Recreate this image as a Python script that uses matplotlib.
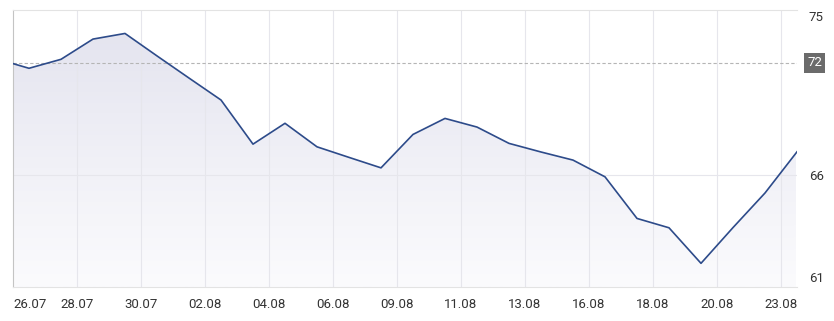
import numpy as np
import matplotlib
matplotlib.use("Agg")
import matplotlib.pyplot as plt
from matplotlib.colors import LinearSegmentedColormap
from matplotlib.patches import Polygon
import matplotlib.transforms as mtransforms

plt.rcParams['font.family'] = ['Roboto', 'DejaVu Sans']

# closing values, one per trading day (first point sits half a day before the left edge)
prices = [72.21, 71.69, 72.19, 73.33, 73.65, 72.38, 71.15, 69.95, 67.60, 68.70,
          67.46, 66.91, 66.37, 68.11, 68.96, 68.50, 67.64, 67.19, 66.77, 65.91,
          63.82, 63.36, 61.64, 63.37, 65.09, 67.20]
x_labels = ['26.07', '28.07', '30.07', '02.08', '04.08', '06.08', '09.08',
            '11.08', '13.08', '16.08', '18.08', '20.08', '23.08']
y_ticks = [61, 66, 75]
ref_level = 72

x = np.arange(len(prices)) - 0.5
y = np.array(prices)
x_min, x_max = 0, x[-1]
y_min, y_max = 60.52, 75

fig = plt.figure(figsize=(8.34, 3.21), dpi=100)
ax = fig.add_axes([13 / 834, 1 - 287 / 321, (797 - 13) / 834, (287 - 10) / 321])
ax.set_yscale('log')
ax.set_xlim(x_min, x_max)
ax.set_ylim(y_min, y_max)

# gradient fill under the line
cmap = LinearSegmentedColormap.from_list('fill', ['#fbfbfd', '#e2e2ee'])
grad = np.linspace(0, 1, 256).reshape(-1, 1)
img = ax.imshow(grad, cmap=cmap, origin='lower', aspect='auto',
                extent=[x_min, x_max, y_min, y_max], zorder=1)
poly_pts = np.column_stack([np.r_[x, x[-1], x[0]], np.r_[y, y_min, y_min]])
clip = Polygon(poly_pts, closed=True, transform=ax.transData, facecolor='none', edgecolor='none')
ax.add_patch(clip)
img.set_clip_path(clip)

ax.plot(x, y, color='#2d4b8a', lw=1.2, zorder=4, solid_joinstyle='round')

# grid
xt = np.arange(0, 2 * len(x_labels), 2)
for v in xt[1:]:
    ax.axvline(v, color='#e6e6ec', lw=0.8, zorder=2)
ax.axhline(66, color='#e6e6ec', lw=0.8, zorder=2)
ax.axhline(ref_level, color='#b5b5b5', lw=0.8, ls=(0, (3, 2)), zorder=3)

for s in ['top', 'bottom']:
    ax.spines[s].set_color('#e3e3e3')
    ax.spines[s].set_linewidth(0.8)
ax.spines['left'].set_color('#c4c4c4')
ax.spines['left'].set_linewidth(0.8)
ax.spines['right'].set_visible(False)

ax.set_xticks(xt)
ax.set_xticklabels(x_labels)
ax.tick_params(axis='x', length=0, pad=8, labelsize=9.5, labelcolor='#333333')
ax.get_xticklabels()[0].set_horizontalalignment('left')

ax.yaxis.tick_right()
ax.set_yticks(y_ticks)
ax.set_yticklabels([str(t) for t in y_ticks])
ax.yaxis.set_minor_locator(matplotlib.ticker.NullLocator())
ax.tick_params(axis='y', length=0, pad=8.5, labelsize=9.5, labelcolor='#333333')
for lab in ax.get_yticklabels():
    if lab.get_text() == '75':
        lab.set_verticalalignment('top')
        lab.set_transform(lab.get_transform() + mtransforms.ScaledTranslation(0, -1 / 100, fig.dpi_scale_trans))

trans = mtransforms.blended_transform_factory(ax.transAxes, ax.transData)
ax.text(1.0, ref_level, str(ref_level), transform=trans,
        ha='left', va='center', fontsize=9.5, color='white',
        bbox=dict(boxstyle='square,pad=0.25', fc='#6b6b6b', ec='none'))
for t in ax.texts:
    t.set_transform(trans + mtransforms.ScaledTranslation(10 / 100, 0, fig.dpi_scale_trans))

fig.savefig('out.png', dpi=100)
